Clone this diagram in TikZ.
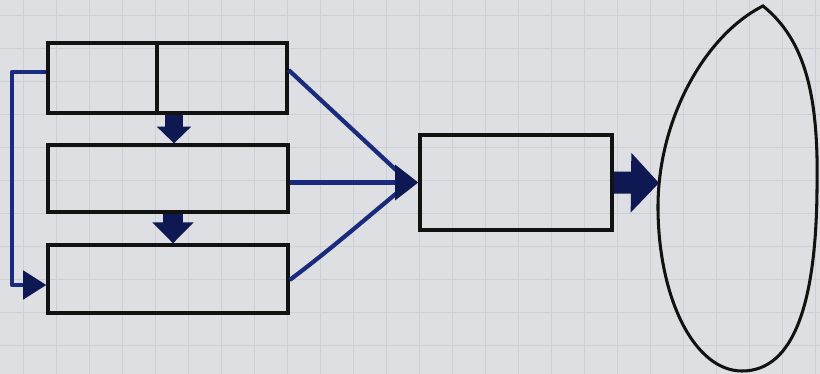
\documentclass[tikz,border=0pt]{standalone}
\usetikzlibrary{arrows.meta,calc}
\definecolor{paper}{RGB}{222,223,226}
\definecolor{gridc}{RGB}{206,208,213}
\definecolor{ink}{RGB}{26,42,124}
\definecolor{navy}{RGB}{14,24,82}
\definecolor{pen}{RGB}{18,18,18}
\tikzset{
  box/.style={draw=pen, line width=2.8pt, rectangle, inner sep=0pt},
  feed/.style={draw=ink, line width=3.6pt, line join=round},
  blockarr/.style={draw=navy, line width=#1},
}
\begin{document}
\begin{tikzpicture}[x=0.03cm,y=-0.03cm]
\useasboundingbox (0,0) rectangle (820,374);
% paper and grid
\fill[paper] (0,0) rectangle (820,374);
\foreach \gx in {23,56,...,820} \draw[gridc, line width=0.4pt] (\gx,0) -- (\gx,374);
\foreach \gy in {15,48,...,374} \draw[gridc, line width=0.4pt] (0,\gy) -- (820,\gy);
% boxes
\node[box, minimum width=3.27cm, minimum height=2.1cm] (topL) at (102.5,78) {};
\node[box, minimum width=3.9cm, minimum height=2.1cm] (topR) at (222,78) {};
\node[box, minimum width=7.2cm, minimum height=2.01cm] (mid) at (168,178.5) {};
\node[box, minimum width=7.2cm, minimum height=2.04cm] (bot) at (168,279) {};
\node[box, minimum width=5.76cm, minimum height=2.85cm] (C) at (516,182.5) {};
% leaf shape
\draw[pen, line width=2.6pt, line join=miter]
  (763,6) .. controls (705,35) and (657,120) .. (658,210)
  .. controls (659,300) and (695,371) .. (742,371)
  .. controls (795,371) and (816,300) .. (817,190)
  .. controls (819,95) and (805,40) .. (763,6) -- cycle;
\coordinate (leafL) at (659,183);
% feedback arrow
\coordinate (fbx) at (12,0);
\coordinate (ya) at (0,72);
\coordinate (yb) at (0,285);
\draw[feed, -{Triangle[width=0.85cm,length=0.7cm,color=navy,fill=navy]}]
  (topL.west |- ya) -- (fbx |- ya) -- (fbx |- yb) -- (bot.west |- yb);
% converging arrows
\coordinate (y1) at (0,70);
\coordinate (y3) at (0,280);
\draw[feed] (topR.east |- y1) -- ($(C.west)+(-10,-1)$);
\draw[feed] (bot.east |- y3) .. controls (330,250) and (370,215) .. ($(C.west)+(-10,1)$);
\draw[feed, -{Triangle[width=1.05cm,length=0.7cm,color=navy,fill=navy]}] (mid.east |- C.west) -- (C.west);
% block arrows
\coordinate (x1) at (174,0);
\coordinate (x2) at (173,0);
\draw[blockarr=0.54cm, -{Triangle[width=1.0cm,length=0.5cm]}] (topR.south -| x1) -- (mid.north -| x1);
\draw[blockarr=0.6cm, -{Triangle[width=1.2cm,length=0.63cm]}] (mid.south -| x2) -- (bot.north -| x2);
\draw[blockarr=0.66cm, -{Triangle[width=1.74cm,length=0.84cm]}] (C.east) -- (leafL);
\end{tikzpicture}
\end{document}
